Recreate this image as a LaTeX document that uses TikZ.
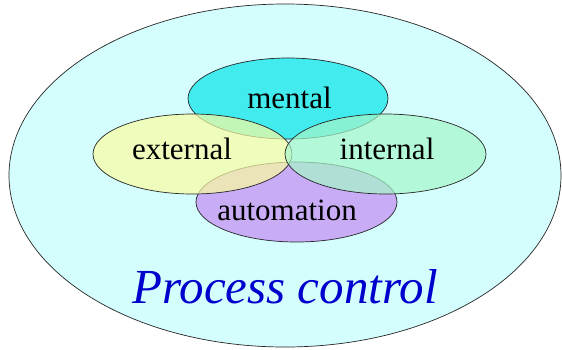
\documentclass[tikz,border=0pt]{standalone}
\usepackage{fontspec}
\setmainfont{Liberation Serif}
\definecolor{bgcyan}{RGB}{212,254,254}
\definecolor{mentc}{RGB}{40,232,236}
\definecolor{extc}{RGB}{250,252,160}
\definecolor{intc}{RGB}{165,246,200}
\definecolor{autc}{RGB}{200,172,246}
\definecolor{pcblue}{RGB}{0,0,205}
\begin{document}
\begin{tikzpicture}[x=1pt,y=-1pt,
  blob/.style={draw=black!85,line width=0.7pt},
  lbl/.style={font=\fontsize{31}{31}\selectfont,anchor=base,inner sep=0pt}]
\useasboundingbox (0,0) rectangle (562,349);
\fill[white] (0,0) rectangle (562,349);
\path[blob,fill=bgcyan] (285,175.5) ellipse [x radius=276, y radius=171.5];
\path[blob,fill=autc] (296.5,202) ellipse [x radius=100.5, y radius=40];
\path[blob,fill=mentc,fill opacity=0.85] (288,98.5) ellipse [x radius=100, y radius=40.5];
\path[blob,fill=extc,fill opacity=0.7] (192.5,154) ellipse [x radius=99.5, y radius=40];
\path[blob,fill=intc,fill opacity=0.7] (385.5,154) ellipse [x radius=100.5, y radius=40];
\node[lbl] (mental) at (289.5,108) {mental};
\node[lbl] (external) at (182,159) {external};
\node[lbl] (internal) at (387,159) {internal};
\node[lbl] (automation) at (287,220) {automation};
\node[anchor=base,inner sep=0pt,text=pcblue,font=\fontsize{49}{49}\selectfont\itshape] (pc) at (285,303) {Process control};
\end{tikzpicture}
\end{document}
